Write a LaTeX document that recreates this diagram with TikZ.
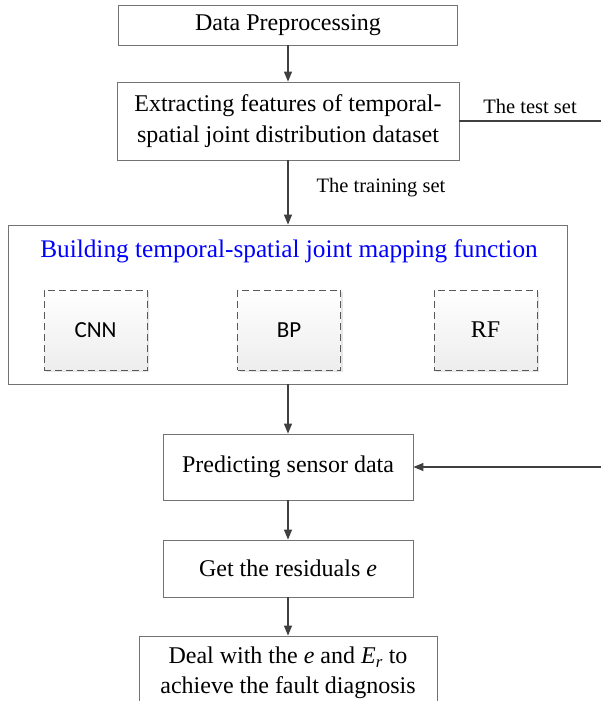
\documentclass[tikz,border=0pt]{standalone}
\usepackage{fontspec}
\setmainfont{Liberation Serif}
\newfontfamily\calibri{Carlito}
\usetikzlibrary{shadows,arrows.meta}
\begin{document}
\begin{tikzpicture}[x=1pt,y=-1pt,
  stepbox/.style={draw=black!55, line width=0.8pt, align=center, inner sep=0pt,
    font=\fontsize{24}{31}\selectfont},
  modelbox/.style={draw=black!65, dash pattern=on 7pt off 4pt, line width=0.8pt,
    top color=white, bottom color=black!7, inner sep=0pt,
    drop shadow={shadow xshift=2pt, shadow yshift=-2pt, opacity=.2},
    minimum width=103pt, minimum height=80pt},
  flow/.style={-{Triangle[length=10pt,width=8pt]}, draw=black!75, line width=1.2pt},
  lbl/.style={font=\fontsize{20.5}{24}\selectfont}]
\useasboundingbox (0,0) rectangle (601,701);
% steps
\node[stepbox, minimum width=339pt, minimum height=40pt] (prep) at (288,25) {Data Preprocessing};
\node[stepbox, minimum width=342pt, minimum height=78pt] (feat) at (288,121) {Extracting features of temporal-\\spatial joint distribution dataset};
\node[stepbox, minimum width=559pt, minimum height=159pt] (map) at (288,304.5) {};
\node[font=\fontsize{25.3}{28}\selectfont, text=blue] (title) at (289,251) {Building temporal-spatial joint mapping function};
\node[modelbox, font=\calibri\fontsize{23}{26}\selectfont] (cnn) at (95.5,330) {CNN};
\node[modelbox, font=\calibri\fontsize{23}{26}\selectfont] (bp) at (289,330) {BP};
\node[modelbox, font=\fontsize{24}{28}\selectfont] (rf) at (485.5,330) {RF};
\node[stepbox, minimum width=250pt, minimum height=66pt] (pred) at (288,467) {Predicting sensor data};
\node[stepbox, minimum width=250pt, minimum height=57pt] (resid) at (288,568.5) {Get the residuals \textit{e}};
\node[stepbox, minimum width=298pt, minimum height=74pt, font=\fontsize{24}{30}\selectfont] (diag) at (288,673) {Deal with the \textit{e} and \textit{E\textsubscript{r}} to\\achieve the fault diagnosis};
% labels
\node[lbl] (train) at (381,188) {The training set};
\node[lbl] (test) at (530,106) {The test set};
% connectors
\coordinate (testend) at (601,121);
\coordinate (retin) at (601,467);
\draw[flow] (prep) -- (feat);
\draw[flow] (feat) -- (map);
\draw[draw=black!75, line width=1.2pt] (feat.east) -- (testend);
\draw[flow] (map) -- (pred);
\draw[flow] (retin) -- (pred.east);
\draw[flow] (pred) -- (resid);
\draw[flow] (resid) -- (diag);
\end{tikzpicture}
\end{document}
